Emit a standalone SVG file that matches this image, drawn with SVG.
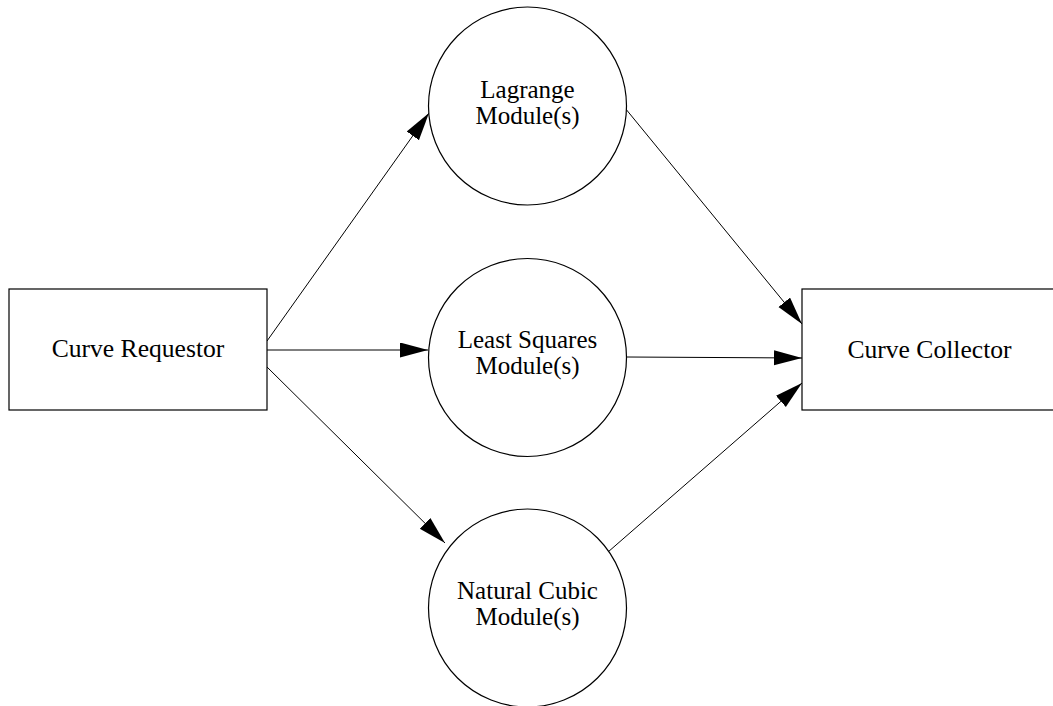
<svg xmlns="http://www.w3.org/2000/svg" width="1053" height="706" viewBox="0 0 1053 706">
<style>
.node{fill:#fff;stroke:#000;stroke-width:1.2}
.edge{stroke:#000;stroke-width:1;fill:none}
text{font-family:"Liberation Serif","Times New Roman",serif;font-size:25.6px;fill:#000;text-anchor:middle}
text.c{font-size:25px}
</style>
<defs>
<marker id="ah" markerUnits="userSpaceOnUse" markerWidth="30" markerHeight="16" refX="28" refY="7.5" orient="auto">
<path d="M0,0 L28,7.5 L0,15 z" fill="#000"/>
</marker>
</defs>
<rect width="1053" height="706" fill="#fff"/>
<g id="connectors">
<line class="edge" x1="267" y1="341" x2="429" y2="113" marker-end="url(#ah)"/>
<line class="edge" x1="267" y1="350" x2="428" y2="350" marker-end="url(#ah)"/>
<line class="edge" x1="267" y1="367" x2="445" y2="543" marker-end="url(#ah)"/>
<line class="edge" x1="625" y1="108" x2="802" y2="324" marker-end="url(#ah)"/>
<line class="edge" x1="627" y1="357" x2="802" y2="358" marker-end="url(#ah)"/>
<line class="edge" x1="608" y1="552" x2="802" y2="383" marker-end="url(#ah)"/>
</g>
<g id="curve-requestor">
<rect class="node" x="9" y="289" width="258" height="121"/>
<text x="138" y="357">Curve Requestor</text>
</g>
<g id="lagrange">
<circle class="node" cx="527.5" cy="106" r="99"/>
<text class="c" x="527.5" y="98">Lagrange</text>
<text class="c" x="527.5" y="124">Module(s)</text>
</g>
<g id="least-squares">
<circle class="node" cx="527.5" cy="357.5" r="99"/>
<text class="c" x="527.5" y="348">Least Squares</text>
<text class="c" x="527.5" y="374">Module(s)</text>
</g>
<g id="natural-cubic">
<circle class="node" cx="527.5" cy="608" r="99"/>
<text class="c" x="527.5" y="599">Natural Cubic</text>
<text class="c" x="527.5" y="625">Module(s)</text>
</g>
<g id="curve-collector">
<rect class="node" x="802" y="289" width="258" height="121"/>
<text x="929.5" y="358">Curve Collector</text>
</g>
</svg>
